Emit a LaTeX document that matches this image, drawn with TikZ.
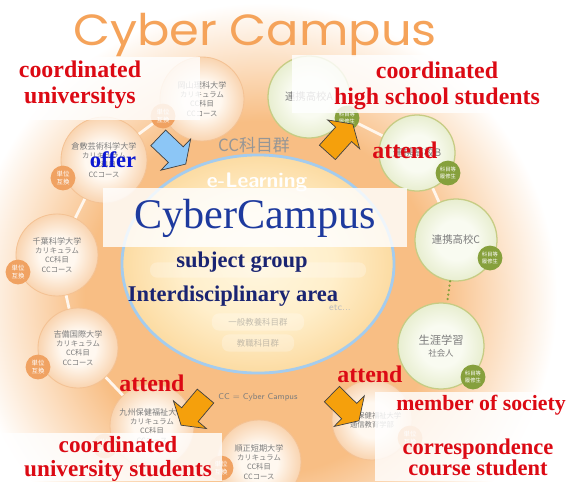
\documentclass[tikz,border=0pt]{standalone}
\usepackage{fontspec}
\setmainfont{Liberation Serif}
\newfontfamily\jpfont{Noto Sans CJK JP}
\newfontfamily\titlefont{Poppins}
\usepackage{tikz}
\usetikzlibrary{shapes.geometric, shapes.arrows}

\definecolor{glowring}{HTML}{F8BE84}
\definecolor{glowfade}{HTML}{FCDFC2}
\definecolor{corein}{HTML}{FFF6DE}
\definecolor{coremid}{HTML}{FFEFCB}
\definecolor{coreout}{HTML}{FCDBA2}
\definecolor{coreblue}{HTML}{A4CCEE}
\definecolor{uniin}{HTML}{FFF8F0}
\definecolor{uniout}{HTML}{F9D4B0}
\definecolor{unirim}{HTML}{F4C294}
\definecolor{hsin}{HTML}{F9FBF1}
\definecolor{hsout}{HTML}{E8EED0}
\definecolor{hsrim}{HTML}{C6CC84}
\definecolor{badgeorange}{HTML}{F0A262}
\definecolor{badgegreen}{HTML}{86A03C}
\definecolor{titleorange}{HTML}{F5A35A}
\definecolor{labelred}{HTML}{DC0A14}
\definecolor{offerblue}{HTML}{0C18D2}
\definecolor{campusblue}{HTML}{1E3A9E}
\definecolor{areanavy}{HTML}{1A2472}
\definecolor{jpgray}{HTML}{7C7C7C}
\definecolor{arrowblue}{HTML}{8CC6F6}
\definecolor{arroworange}{HTML}{F5A00C}
\definecolor{ringwhite}{HTML}{FFF6EC}

\pgfdeclareradialshading{glowshade}{\pgfpoint{0bp}{0bp}}{color(0bp)=(glowring); color(15bp)=(glowring); color(20bp)=(glowfade); color(25bp)=(white); color(50bp)=(white)}
\pgfdeclareradialshading{coreshade}{\pgfpoint{0bp}{0bp}}{color(0bp)=(corein); color(14bp)=(coremid); color(25bp)=(coreout); color(50bp)=(coreout)}
\pgfdeclareradialshading{unishade}{\pgfpoint{0bp}{0bp}}{color(0bp)=(uniin); color(11bp)=(uniin); color(25bp)=(uniout); color(50bp)=(uniout)}
\pgfdeclareradialshading{hsshade}{\pgfpoint{0bp}{0bp}}{color(0bp)=(hsin); color(12bp)=(hsin); color(25bp)=(hsout); color(50bp)=(hsout)}

\newcommand\unilines[1]{{\fontsize{5.8}{7.4}\selectfont #1}\\カリキュラム\\CC科目\\CCコース}

\tikzset{
    unicircle/.style={circle, minimum size=#1, inner sep=0pt, shade, shading=unishade, draw=unirim, line width=0.6pt, align=center, text=jpgray, font=\jpfont\fontsize{5.2}{6.6}\selectfont},
    hscircle/.style={circle, minimum size=#1, inner sep=0pt, shade, shading=hsshade, draw=hsrim, line width=0.9pt, align=center, text=jpgray, font=\jpfont\fontsize{7.4}{9}\selectfont},
    unibadge/.style={circle, minimum size=0.62cm, inner sep=0pt, fill=badgeorange, text=white, align=center, font=\jpfont\fontsize{4.6}{5.2}\selectfont},
    hsbadge/.style={unibadge, fill=badgegreen, font=\jpfont\fontsize{3.8}{4.4}\selectfont},
    ringline/.style={draw=ringwhite, line width=2pt},
    dotline/.style={draw=badgegreen, line width=1.8pt, dash pattern=on 0pt off 3.2pt, line cap=round},
    labelbox/.style={fill=white, fill opacity=0.82},
    redlabel/.style={text=labelred, align=center, font=\bfseries\fontsize{17}{18.5}\selectfont},
    bluelabel/.style={text=offerblue, font=\bfseries\fontsize{16}{16}\selectfont},
    arealabel/.style={text=areanavy, font=\bfseries\fontsize{16}{16}\selectfont},
    blockarrow/.style={single arrow, draw=black!75, line width=0.5pt, fill=#1, inner xsep=0pt, inner ysep=0.26cm, minimum height=0.95cm, single arrow head extend=0.27cm, single arrow tip angle=115},
    faintpill/.style={rounded corners=5pt, fill=white, fill opacity=0.25, text opacity=0.45, text=jpgray, font=\jpfont\fontsize{6}{6}\selectfont, minimum height=0.38cm}
}

\begin{document}
\begin{tikzpicture}[x=0.025cm, y=-0.025cm]

    %% Canvas and glow
    \useasboundingbox (0,0) rectangle (572,481);
    \fill[white] (0,0) rectangle (572,481);
    \shade[shading=glowshade] (262,298) ellipse [x radius=295, y radius=295];

    %% Title
    \node (title) [anchor=base, text=titleorange, font=\titlefont\fontsize{31}{31}\selectfont] at (255,45) {\scalebox{1.1}[1]{Cyber Campus}};

    %% Core
    \node (core) [ellipse, minimum width=6.8cm, minimum height=5.45cm, shade, shading=coreshade, draw=coreblue, line width=2pt] at (258,264) {};
    \node (ccgroup) [text=jpgray!80, font=\jpfont\fontsize{12}{12}\selectfont] at (254,145) {CC科目群};
    \node (elearning) [text=white, font=\sffamily\bfseries\fontsize{15}{15}\selectfont] at (257,182) {e-Learning};
    \node (pillA) [faintpill, minimum width=5.4cm] at (258,270) {};
    \node (pillB) [faintpill, minimum width=2.3cm] at (258,322) {一般教養科目群};
    \node (pillC) [faintpill, minimum width=1.8cm] at (258,343) {教職科目群};
    \node (etc) [text=jpgray!50, font=\sffamily\fontsize{7}{7}\selectfont] at (340,308) {etc...};
    \node (ccnote) [text=jpgray, font=\sffamily\fontsize{6}{6}\selectfont] at (258,397) {CC = Cyber Campus};

    %% Universities
    \node (okayama) [unicircle=2.1cm] at (202,99) {\unilines{岡山理科大学}};
    \node (kurashiki) [unicircle=2.15cm] at (104,160) {\unilines{倉敷芸術科学大学}};
    \node (chiba) [unicircle=2.05cm] at (57,255) {\unilines{千葉科学大学}};
    \node (kibi) [unicircle=2cm] at (78,348) {\unilines{吉備国際大学}};
    \node (kyushu) [unicircle=2.1cm] at (152,426) {\unilines{九州保健福祉大学}};
    \node (junsei) [unicircle=2.1cm] at (259,462) {\unilines{順正短期大学}};
    \node (tsushin) [unicircle=2cm] at (372,420) {九州保健福祉大学\\通信教育学部};

    %% High schools and society
    \node (renkeiA) [hscircle=2.05cm] at (309,97) {連携高校A};
    \node (renkeiB) [hscircle=1.9cm] at (417,153) {連携高校B};
    \node (renkeiC) [hscircle=2.05cm] at (456,240) {連携高校C};
    \node (shogai) [hscircle=2.15cm] at (441,346) {{\fontsize{8}{10}\selectfont 生涯学習}\\{\fontsize{6}{7}\selectfont 社会人}};

    %% Badges
    \node (okayamabadge) [unibadge] at (163,116) {単位\\互換};
    \node (kurashikibadge) [unibadge] at (63,178) {単位\\互換};
    \node (chibabadge) [unibadge] at (18,272) {単位\\互換};
    \node (kibibadge) [unibadge] at (38,367) {単位\\互換};
    \node (kyushubadge) [unibadge] at (105,446) {単位\\互換};
    \node (junseibadge) [unibadge] at (221,468) {単位\\互換};
    \node (tsushinbadge) [unibadge] at (410,438) {単位\\互換};
    \node (renkeiAbadge) [hsbadge] at (347,118) {科目等\\履修生};
    \node (renkeiBbadge) [hsbadge] at (448,173) {科目等\\履修生};
    \node (renkeiCbadge) [hsbadge] at (490,258) {科目等\\履修生};
    \node (shogaibadge) [hsbadge] at (473,377) {科目等\\履修生};

    %% Ring
    \draw[ringline] (kurashiki) -- (okayamabadge);
    \draw[ringline] (kurashiki) -- (chiba);
    \draw[ringline] (chiba) -- (kibi);
    \draw[ringline] (kibi) -- (kyushu);
    \draw[ringline] (renkeiAbadge) -- (renkeiB);
    \draw[ringline] (renkeiB) -- (renkeiC);
    \draw[dotline] (renkeiC) -- (shogai);

    %% Label boxes
    \fill[labelbox] (5,57) rectangle (200,120);
    \fill[labelbox] (292,55) rectangle (572,113);
    \fill[labelbox] (103,188) rectangle (407,247);
    \fill[labelbox] (0,433) rectangle (222,481);
    \fill[labelbox] (375,392) rectangle (572,481);

    %% Texts
    \node (campus) [text=campusblue, font=\fontsize{30}{30}\selectfont] at (255,218) {CyberCampus};
    \node (subject) [arealabel] at (242,262) {subject group};
    \node (area) [arealabel] at (233,296) {Interdisciplinary area};
    \node (univlabel) [redlabel] at (80,85) {coordinated\\universitys};
    \node (hslabel) [redlabel] at (437,86) {coordinated\\high school students};
    \node (studentlabel) [redlabel, font=\bfseries\fontsize{16.5}{17.5}\selectfont] at (118,459) {coordinated\\university students};
    \node (societylabel) [redlabel, font=\bfseries\fontsize{15.5}{15.5}\selectfont] at (481,405) {member of society};
    \node (corrlabel) [redlabel, font=\bfseries\fontsize{16}{15}\selectfont] at (478,457) {correspondence\\course student};
    \node (offer) [bluelabel] at (113,160) {offer};
    \node (attendA) [redlabel] at (405,150) {attend};
    \node (attendB) [redlabel] at (152,383) {attend};
    \node (attendC) [redlabel] at (370,374) {attend};

    %% Arrows
    \node (offerarrow) [blockarrow=arrowblue, rotate=-43.6] at (169.5,148.6) {};
    \node (hsarrow) [blockarrow=arroworange, rotate=48] at (337.8,140.8) {};
    \node (studentarrow) [blockarrow=arroworange, rotate=-130] at (195.5,408) {};
    \node (corrarrow) [blockarrow=arroworange, rotate=-44.6] at (343,405) {};

\end{tikzpicture}
\end{document}
